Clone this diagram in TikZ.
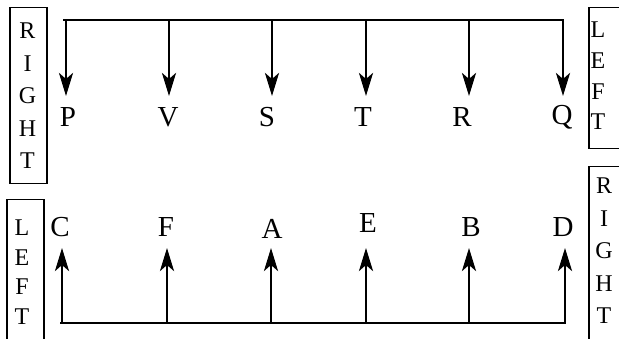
\documentclass[tikz,border=0pt]{standalone}
\usepackage{fontspec}
\setmainfont{Liberation Serif}
\usetikzlibrary{arrows.meta}
\begin{document}
\begin{tikzpicture}[x=1pt,y=-1pt,
  bar/.style={line width=2.4pt},
  pointer/.style={line width=2.8pt,-{Stealth[length=23pt,width=14pt,inset=6pt]}},
  lbl/.style={font=\fontsize{29}{29}\selectfont, inner sep=0pt},
  sidebox/.style={draw, line width=1.5pt, inner sep=0pt, anchor=north west},
  sideletter/.style={font=\fontsize{24}{24}\selectfont, inner sep=0pt}]
\useasboundingbox (0,0) rectangle (619,339);

% upper rail and its downward pointers
\coordinate (topL) at (63,20);
\coordinate (topR) at (564,20);
\draw[bar] (topL) -- (topR);
\foreach \n/\x/\lx in {P/66/68, V/169/168, S/272/267, T/366/363, R/469/462, Q/563/562}{
  \coordinate (r\n) at (\x,20);
  \coordinate (h\n) at (\x,96);
  \draw[pointer] (r\n) -- (h\n);
  \node[lbl] (\n) at (\lx,117) {\n};
}

% lower rail and its upward pointers
\coordinate (botL) at (60,323);
\coordinate (botR) at (566,323);
\draw[bar] (botL) -- (botR);
\foreach \n/\x/\lx/\ly in {C/62/60/227, F/167/166/227, A/271/272/229, E/366/368/223, B/469/471/227, D/565/563/227}{
  \coordinate (b\n) at (\x,323);
  \coordinate (u\n) at (\x,248);
  \draw[pointer] (b\n) -- (u\n);
  \node[lbl] (l\n) at (\lx,\ly) {\n};
}

% side tags
\node[sidebox, minimum width=37pt, minimum height=176pt] (tagTL) at (9,7) {};
\foreach \c/\y [count=\i] in {R/31, I/63.5, G/96, H/128.5, T/161}
  \node[sideletter] (tl\i) at (27.5,\y) {\c};

\node[sidebox, minimum width=38pt, minimum height=141pt] (tagTR) at (588,7) {};
\foreach \c/\y [count=\i] in {L/30, E/60.7, F/91.3, T/122}
  \node[sideletter] (tr\i) at (598,\y) {\c};

\node[sidebox, minimum width=37pt, minimum height=150pt] (tagBL) at (6,199) {};
\foreach \c/\y [count=\i] in {L/228, E/257.5, F/287, T/316.5}
  \node[sideletter] (bl\i) at (22,\y) {\c};

\node[sidebox, minimum width=34pt, minimum height=180pt] (tagBR) at (588,166) {};
\foreach \c/\y [count=\i] in {R/186, I/218.5, G/251, H/283.5, T/316}
  \node[sideletter] (br\i) at (604,\y) {\c};
\end{tikzpicture}
\end{document}
